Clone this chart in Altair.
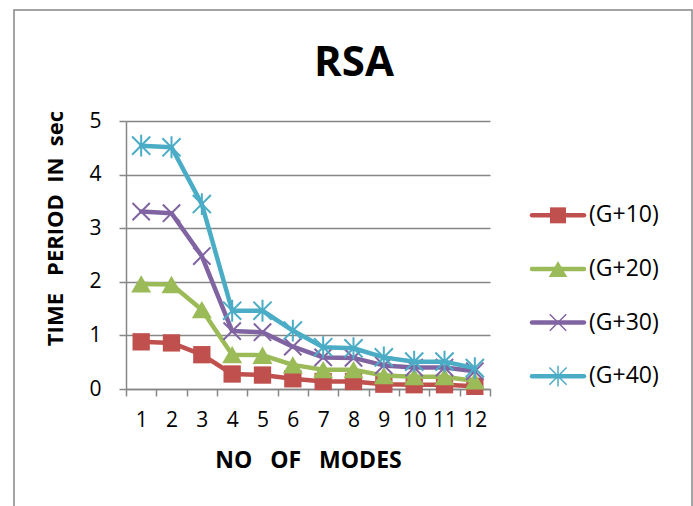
import altair as alt
import pandas as pd

# Mode numbers and time periods (sec) for each building height
modes = list(range(1, 13))
series = ["(G+10)", "(G+20)", "(G+30)", "(G+40)"]
g10 = [0.88, 0.86, 0.64, 0.28, 0.26, 0.19, 0.14, 0.14, 0.09, 0.08, 0.08, 0.05]
g20 = [1.96, 1.95, 1.48, 0.64, 0.63, 0.45, 0.36, 0.36, 0.25, 0.23, 0.23, 0.15]
g30 = [3.31, 3.28, 2.48, 1.08, 1.06, 0.79, 0.59, 0.58, 0.44, 0.40, 0.40, 0.33]
g40 = [4.54, 4.51, 3.45, 1.46, 1.46, 1.09, 0.78, 0.76, 0.59, 0.51, 0.51, 0.39]
y_ticks = [0, 1, 2, 3, 4, 5]

chart_title = "RSA"
x_title = "NO\u00a0\u00a0\u00a0OF\u00a0\u00a0\u00a0MODES"
y_title = "TIME\u00a0\u00a0\u00a0PERIOD\u00a0\u00a0IN\u00a0\u00a0sec"

colors = ["#C0504D", "#9BBB59", "#8064A2", "#4BACC6"]
X_PATH = "M-1,-1L1,1M-1,1L1,-1"
STAR_PATH = "M-1,-1L1,1M-1,1L1,-1M0,-1.2L0,1.2"
# (shape, filled, size) per series
markers = [
    ("square", True, 300),
    ("triangle-up", True, 400),
    (X_PATH, False, 300),
    (STAR_PATH, False, 330),
]

df = pd.DataFrame({
    "mode": modes * 4,
    "value": g10 + g20 + g30 + g40,
    "series": [s for s in series for _ in modes],
})

FONT = "Open Sans"
GRAY = "#868686"
W, H = 364, 268
step = W / len(modes)

x_enc = alt.X(
    "mode:Q",
    scale=alt.Scale(domain=[0.5, 12.5], nice=False, zero=False),
    axis=alt.Axis(
        title=x_title,
        values=[m - 0.5 for m in modes] + [modes[-1] + 0.5],
        labelExpr="datum.value < 12 ? format(datum.value + 0.5, 'd') : ''",
        labelOffset=step / 2,
        labelFlush=False,
        labelOverlap=False,
        labelFont=FONT, labelFontSize=21, labelColor="#000000",
        labelPadding=13,
        tickSize=7, tickColor=GRAY, tickWidth=1.5,
        domainColor=GRAY, domainWidth=1.5,
        grid=False,
        titleFont=FONT, titleFontSize=23, titleFontWeight="bold",
        titleColor="#000000", titlePadding=19,
    ),
)
y_enc = alt.Y(
    "value:Q",
    scale=alt.Scale(domain=[0, 5], nice=False, zero=True),
    axis=alt.Axis(
        title=y_title,
        values=y_ticks,
        format="d",
        labelFont=FONT, labelFontSize=21, labelColor="#000000",
        labelPadding=18,
        tickSize=7, tickColor=GRAY, tickWidth=1.5,
        domainColor=GRAY, domainWidth=1.5,
        grid=True, gridColor=GRAY, gridWidth=1.5,
        titleFont=FONT, titleFontSize=22, titleFontWeight="bold",
        titleColor="#000000", titlePadding=21, titleY=107,
    ),
)

base = alt.Chart(df).encode(x=x_enc, y=y_enc)

layers = []
for name, col, (shape, filled, size) in zip(series, colors, markers):
    sub = base.transform_filter(alt.datum.series == name)
    layers.append(sub.mark_line(color=col, strokeWidth=4.5,
                                strokeJoin="round", strokeCap="round"))
    if filled:
        layers.append(sub.mark_point(shape=shape, filled=True, size=size,
                                     color=col, opacity=1))
    else:
        layers.append(sub.mark_point(shape=shape, filled=False, size=size,
                                     color=col, strokeWidth=2, opacity=1))

one = alt.InlineData(values=[{"k": 0}])

# outer frame around the whole figure
frame = alt.Chart(one).mark_rect(fillOpacity=0, stroke=GRAY, strokeWidth=1.5).encode(
    x=alt.value(-112), x2=alt.value(566), y=alt.value(-111), y2=alt.value(430)
)

title_mark = alt.Chart(alt.InlineData(values=[{"t": chart_title}])).mark_text(
    font=FONT, fontSize=42, fontWeight="bold", color="#000000",
    align="center", baseline="alphabetic"
).encode(x=alt.value(228), y=alt.value(-45), text="t:N")

main = alt.layer(frame, *layers, title_mark).properties(width=W, height=H)

# legend: a line with its marker and label for each series
leg_df = pd.DataFrame({"series": series})
leg_y = alt.Y("series:N", sort=series,
              scale=alt.Scale(type="point", padding=1.2917, align=0.88),
              axis=None)
leg_base = alt.Chart(leg_df).encode(y=leg_y)
leg_layers = []
for name, col, (shape, filled, size) in zip(series, colors, markers):
    sub = leg_base.transform_filter(alt.datum.series == name)
    leg_layers.append(sub.mark_rule(color=col, strokeWidth=4.5, strokeCap="round").encode(
        x=alt.value(2), x2=alt.value(54)))
    if filled:
        leg_layers.append(sub.mark_point(shape=shape, filled=True, size=size * 0.85,
                                         color=col, opacity=1).encode(x=alt.value(28)))
    else:
        leg_layers.append(sub.mark_point(shape=shape, filled=False, size=size * 0.9,
                                         color=col, strokeWidth=1.5, opacity=1).encode(x=alt.value(28)))
leg_text = leg_base.mark_text(font=FONT, fontSize=23, color="#000000",
                              align="left", baseline="middle", dx=0).encode(
    x=alt.value(59), text="series:N")
legend = alt.layer(*leg_layers, leg_text).properties(width=56, height=H)

chart = alt.hconcat(main, legend, spacing=40, bounds="flush").properties(
    padding={"left": 13, "top": 9, "right": 0, "bottom": 0},
    background="white",
).configure_view(stroke=None)

chart.save("out.html", embed_options={"renderer": "svg", "actions": False})
